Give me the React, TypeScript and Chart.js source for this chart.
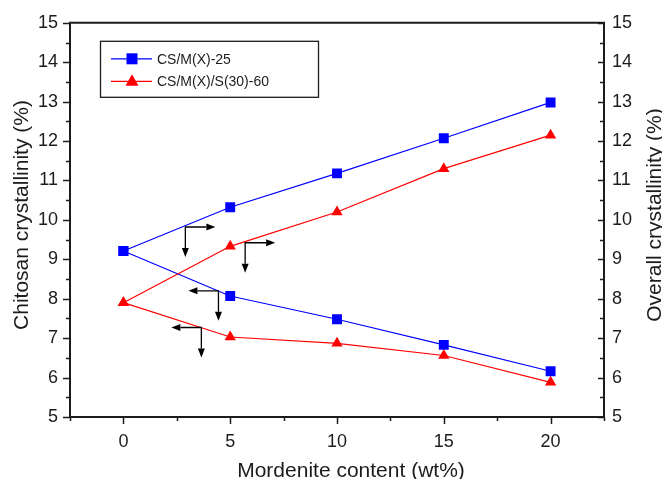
import React, { useEffect, useRef } from 'react';
import { Chart, registerables } from 'chart.js';

Chart.register(...registerables);

// ---- data ----
const xValues = [0, 5, 10, 15, 20];
const overallBlue = [9.21, 10.32, 11.18, 12.07, 12.98];
const overallRed = [7.9, 9.33, 10.2, 11.3, 12.15];
const chitosanBlue = [9.21, 8.07, 7.48, 6.83, 6.16];
const chitosanRed = [7.9, 7.03, 6.87, 6.56, 5.88];
const seriesNames = ['CS/M(X)-25', 'CS/M(X)/S(30)-60'];
const xTicks = [0, 5, 10, 15, 20];
const yTicks = [5, 6, 7, 8, 9, 10, 11, 12, 13, 14, 15];
const xTitle = 'Mordenite content (wt%)';
const yLeftTitle = 'Chitosan crystallinity (%)';
const yRightTitle = 'Overall crystallinity (%)';
// arrow annotations (corner in data units, horizontal direction: 1 = right axis, -1 = left axis)
const arrowX = [2.9, 5.7, 4.45, 3.65];
const arrowY = [9.82, 9.42, 8.2, 7.27];
const arrowDir = [1, 1, -1, -1];

const BLUE = '#0000ff';
const RED = '#ff0000';
const INK = '#1c1c1c';
const FONT = '"Liberation Sans", Arial, sans-serif';

const toPts = (ys: number[]) => xValues.map((x, i) => ({ x, y: ys[i] }));

const decorPlugin = {
  id: 'decor',
  afterDraw(chart: any) {
    const ctx = chart.ctx as CanvasRenderingContext2D;
    const { left, right, top, bottom } = chart.chartArea;
    const xs = chart.scales.x;
    const ys = chart.scales.y;
    ctx.save();
    ctx.strokeStyle = INK;
    ctx.lineWidth = 2;
    // top frame
    ctx.beginPath();
    ctx.moveTo(left - 1, top);
    ctx.lineTo(right + 1, top);
    ctx.stroke();
    // y ticks (left outward, right inward)
    ctx.lineWidth = 1.5;
    for (let i = 0; i <= 20; i++) {
      const v = 5 + i * 0.5;
      const py = Math.round(ys.getPixelForValue(v)) + 0.5;
      const len = i % 2 === 0 ? 7 : 4;
      const lenR = i % 2 === 0 ? 6 : 4;
      ctx.beginPath();
      ctx.moveTo(left - len, py);
      ctx.lineTo(left, py);
      ctx.moveTo(right - lenR, py);
      ctx.lineTo(right, py);
      ctx.stroke();
    }
    // x ticks (outward)
    for (let i = 0; i <= 10; i++) {
      const v = -2.5 + i * 2.5;
      const px = Math.round(xs.getPixelForValue(v)) + 0.5;
      const len = i % 2 === 1 ? 7 : 4;
      ctx.beginPath();
      ctx.moveTo(px, bottom);
      ctx.lineTo(px, bottom + len);
      ctx.stroke();
    }

    // arrows
    ctx.strokeStyle = '#000';
    ctx.fillStyle = '#000';
    ctx.lineWidth = 1.3;
    const L = 30;
    const head = 9;
    const hw = 3.5;
    for (let i = 0; i < arrowX.length; i++) {
      const cx = xs.getPixelForValue(arrowX[i]);
      const cy = ys.getPixelForValue(arrowY[i]);
      const d = arrowDir[i];
      const ex = cx + d * L;
      const ey = cy + L;
      ctx.beginPath();
      ctx.moveTo(ex - d * head, cy);
      ctx.lineTo(cx, cy);
      ctx.lineTo(cx, ey - head);
      ctx.stroke();
      ctx.beginPath();
      ctx.moveTo(ex, cy);
      ctx.lineTo(ex - d * head, cy - hw);
      ctx.lineTo(ex - d * head, cy + hw);
      ctx.closePath();
      ctx.fill();
      ctx.beginPath();
      ctx.moveTo(cx, ey);
      ctx.lineTo(cx - hw, ey - head);
      ctx.lineTo(cx + hw, ey - head);
      ctx.closePath();
      ctx.fill();
    }

    // legend
    const bx = left + 30;
    const by = top + 18;
    const bw = 218;
    const bh = 56;
    ctx.strokeStyle = INK;
    ctx.lineWidth = 1.3;
    ctx.strokeRect(bx + 0.5, by + 0.5, bw, bh);
    const colors = [BLUE, RED];
    for (let i = 0; i < seriesNames.length; i++) {
      const ly = by + 18 + i * 22.5;
      ctx.strokeStyle = colors[i];
      ctx.lineWidth = 1.2;
      ctx.beginPath();
      ctx.moveTo(bx + 11, ly);
      ctx.lineTo(bx + 52, ly);
      ctx.stroke();
      ctx.fillStyle = colors[i];
      const mx = bx + 32;
      if (i === 0) {
        ctx.fillRect(mx - 5.5, ly - 5.5, 11, 11);
      } else {
        ctx.beginPath();
        ctx.moveTo(mx, ly - 7);
        ctx.lineTo(mx + 6.5, ly + 4.5);
        ctx.lineTo(mx - 6.5, ly + 4.5);
        ctx.closePath();
        ctx.fill();
      }
      ctx.fillStyle = INK;
      ctx.font = `14px ${FONT}`;
      ctx.textAlign = 'left';
      ctx.textBaseline = 'middle';
      ctx.fillText(seriesNames[i], bx + 57, ly + 1);
    }

    // axis titles
    ctx.fillStyle = INK;
    ctx.font = `21px ${FONT}`;
    ctx.textAlign = 'center';
    ctx.textBaseline = 'alphabetic';
    ctx.fillText(xTitle, 351, 477);
    ctx.save();
    ctx.translate(28, 215);
    ctx.rotate(-Math.PI / 2);
    ctx.fillText(yLeftTitle, 0, 0);
    ctx.restore();
    ctx.save();
    ctx.translate(661, 215);
    ctx.rotate(-Math.PI / 2);
    ctx.fillText(yRightTitle, 0, 0);
    ctx.restore();
    ctx.restore();
  },
};

export default function App() {
  const ref = useRef<HTMLCanvasElement | null>(null);
  useEffect(() => {
    document.body.style.margin = '0';
    const canvas = ref.current;
    if (!canvas) return;
    const tickFont = { family: FONT, size: 18 };
    const chart = new Chart(canvas, {
      type: 'line',
      data: {
        datasets: [
          {
            label: seriesNames[0] + ' overall',
            data: toPts(overallBlue),
            yAxisID: 'y2',
            borderColor: BLUE,
            backgroundColor: BLUE,
            borderWidth: 1.2,
            pointStyle: 'rect',
            pointRadius: 7,
            pointBorderWidth: 0,
          },
          {
            label: seriesNames[1] + ' overall',
            data: toPts(overallRed),
            yAxisID: 'y2',
            borderColor: RED,
            backgroundColor: RED,
            borderWidth: 1.2,
            pointStyle: 'triangle',
            pointRadius: 6.5,
            pointBorderWidth: 0,
          },
          {
            label: seriesNames[0] + ' chitosan',
            data: toPts(chitosanBlue),
            yAxisID: 'y',
            borderColor: BLUE,
            backgroundColor: BLUE,
            borderWidth: 1.2,
            pointStyle: 'rect',
            pointRadius: 7,
            pointBorderWidth: 0,
          },
          {
            label: seriesNames[1] + ' chitosan',
            data: toPts(chitosanRed),
            yAxisID: 'y',
            borderColor: RED,
            backgroundColor: RED,
            borderWidth: 1.2,
            pointStyle: 'triangle',
            pointRadius: 6.5,
            pointBorderWidth: 0,
          },
        ],
      },
      options: {
        animation: false,
        responsive: true,
        maintainAspectRatio: false,
        layout: { padding: { top: 22, left: 0, right: 0, bottom: 0 } },
        plugins: { legend: { display: false }, tooltip: { enabled: false } },
        scales: {
          x: {
            type: 'linear',
            min: -2.5,
            max: 22.5,
            afterBuildTicks: (s: any) => {
              s.ticks = xTicks.map((v) => ({ value: v }));
            },
            afterFit: (s: any) => {
              s.height = 62;
            },
            grid: { display: true, drawOnChartArea: false, drawTicks: false },
            border: { display: true, color: INK, width: 2 },
            ticks: { color: INK, font: tickFont, padding: 14, maxRotation: 0, autoSkip: false },
          },
          y: {
            type: 'linear',
            position: 'left',
            min: 5,
            max: 15,
            afterBuildTicks: (s: any) => {
              s.ticks = yTicks.map((v) => ({ value: v }));
            },
            afterFit: (s: any) => {
              s.width = 70;
            },
            grid: { display: true, drawOnChartArea: false, drawTicks: false },
            border: { display: true, color: INK, width: 2 },
            ticks: { color: INK, font: tickFont, padding: 12, autoSkip: false },
          },
          y2: {
            type: 'linear',
            position: 'right',
            min: 5,
            max: 15,
            afterBuildTicks: (s: any) => {
              s.ticks = yTicks.map((v) => ({ value: v }));
            },
            afterFit: (s: any) => {
              s.width = 58;
            },
            grid: { display: true, drawOnChartArea: false, drawTicks: false },
            border: { display: true, color: INK, width: 2 },
            ticks: { color: INK, font: tickFont, padding: 8, autoSkip: false },
          },
        },
      },
      plugins: [decorPlugin],
    } as any);
    return () => chart.destroy();
  }, []);
  return (
    <div style={{ width: 662, height: 479, position: 'relative', background: '#fff' }}>
      <canvas ref={ref} />
    </div>
  );
}
